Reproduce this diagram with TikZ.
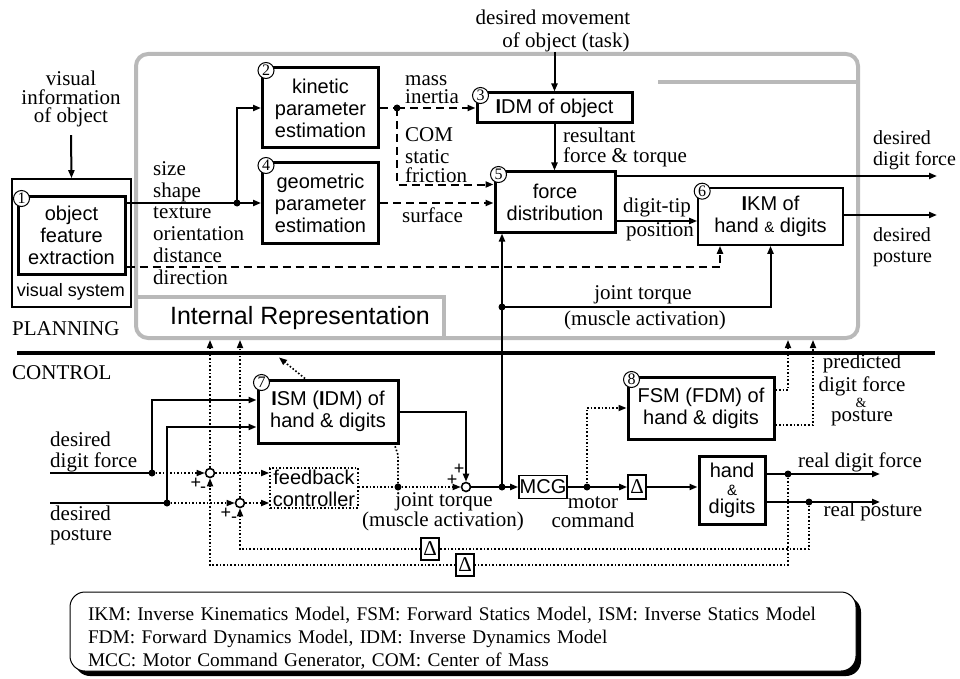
\documentclass[tikz,border=0pt]{standalone}
\usepackage{fontspec}
\setmainfont{Liberation Serif}
\setsansfont{Liberation Sans}
\usetikzlibrary{arrows.meta,positioning}
\newcommand\bxfont{\sffamily\fontsize{20}{22}\selectfont}
\newcommand\lbfont{\fontsize{21}{21.8}\selectfont}
\newcommand\nmfont{\fontsize{16}{16}\selectfont}
\newcommand\amp{{\fontsize{15}{15}\selectfont\&}}
\tikzset{
  >={Triangle[length=8pt,width=6pt]},
  blk/.style={draw,line width=3pt,font=\bxfont,align=center,inner sep=0pt},
  tblk/.style={draw,line width=1.6pt,font=\bxfont,align=center,inner sep=0pt},
  fbbox/.style={draw,dotln,font=\bxfont,align=center,inner sep=0pt},
  numc/.style={circle,draw,fill=white,line width=1pt,inner sep=0pt,minimum size=16pt,font=\nmfont},
  sumc/.style={circle,draw,fill=white,line width=1.6pt,inner sep=0pt,minimum size=9pt},
  lbl/.style={font=\lbfont,inner sep=0pt},
  pm/.style={font={\sffamily\fontsize{18}{18}\selectfont},inner sep=0pt},
  conn/.style={line width=2pt},
  dashln/.style={line width=2pt,dash pattern=on 8pt off 5pt},
  dotln/.style={line width=1.6pt,dash pattern=on 1.6pt off 2pt},
  irline/.style={gray!55,line width=4pt},
  legbox/.style={draw,fill=white,line width=1pt,rounded corners=15pt,
    minimum width=786pt,minimum height=79pt},
  legtext/.style={text width=750pt,align=left,inner sep=0pt,
    font={\fontsize{19.3}{23}\selectfont}},
}
\begin{document}
\begin{tikzpicture}[x=1pt,y=-1pt]
  \useasboundingbox (0,0) rectangle (960,679);

  % internal representation area
  \draw[irline,rounded corners=12pt] (136,54) rectangle (858,338);
  \draw[irline] (658,82) -- (858,82);
  \draw[irline] (136,297) -- (444,297) -- (444,338);
  \node[font={\sffamily\fontsize{25}{25}\selectfont}] (irlbl) at (300,318) {Internal Representation};

  \node[lbl] (plan) [anchor=west] at (12,329) {PLANNING};
  \node[lbl] (ctrl) [anchor=west] at (12,373) {CONTROL};
  \draw[line width=4pt] (17,353) -- (935,353);

  % planning
  \node[lbl,align=center,font={\fontsize{21}{18.5}\selectfont}] (visinfo) at (71,99) {visual\\information\\of object};
  \node[tblk,minimum width=119pt,minimum height=128pt] (vsys) at (71.5,243) {};
  \node[blk,minimum width=107pt,minimum height=78pt] (b1) at (71.5,235) {object\\feature\\extraction};
  \node[inner sep=0pt,font={\sffamily\fontsize{18}{18}\selectfont}] (vslbl) at (71,292) {visual system};
  \draw[conn,->] ([yshift=-8pt]visinfo.south) -- (vsys.north);

  \node[lbl,align=left,anchor=west] (feat) at (153,223) {size\\shape\\texture\\orientation\\distance\\direction};

  \node[blk,minimum width=116pt,minimum height=80pt] (b2) at (320.5,108) {kinetic\\parameter\\estimation};
  \node[blk,minimum width=116pt,minimum height=80pt] (b4) at (320.5,203) {geometric\\parameter\\estimation};
  \node[blk,minimum width=155pt,minimum height=30pt] (b3) at (554.5,108) {\textbf{I}DM of object};
  \node[blk,minimum width=120pt,minimum height=60pt] (b5) at (555,202) {force\\distribution};
  \node[tblk,minimum width=145pt,minimum height=57pt] (b6) at (770.5,216.5) {\textbf{I}KM of\\hand \amp{} digits};

  \coordinate (j1) at (237,203);
  \draw[conn,->] (b1.east |- j1) -- (j1) -- (b4.west |- j1);
  \draw[conn,->] (j1) |- (b2.west);
  \fill (j1) circle (3.5);

  \coordinate (j2) at (397,108);
  \draw[dashln] (b2.east) -- (j2);
  \draw[dashln,->] (j2) -- (b3.west);
  \draw[dashln,->] (j2) |- ([yshift=-14pt]b5.north west);
  \draw[dashln,->] (b4.east) -- (b4.east -| b5.west);
  \fill (j2) circle (3.5);

  \node[lbl,align=left,anchor=west,font={\fontsize{21}{18}\selectfont}] (mass) at (405,90) {mass\\inertia};
  \node[lbl,anchor=west] (com) at (405,135) {COM};
  \node[lbl,align=left,anchor=west,font={\fontsize{21}{19}\selectfont}] (fric) at (405,166) {static\\friction};
  \node[lbl,anchor=west] (surf) at (402,215) {surface};

  \node[lbl] (task1) at (553,17) {desired movement};
  \node[lbl] (task2) at (566,42) {of object (task)};
  \draw[conn,->] (task2.south -| b3.north) -- (b3.north);
  \draw[conn,->] (b3.south) -- (b3.south |- b5.north);
  \node[lbl,align=left,anchor=west,font={\fontsize{21}{20}\selectfont}] (result) at (563,147) {resultant\\force \& torque};

  \coordinate (outF) at (937,176);
  \coordinate (outP) at (937,215);
  \draw[conn,->] (b5.east |- outF) -- (outF);
  \draw[conn,->] (b5.east |- 0,221) -- (b6.west |- 0,221);
  \draw[conn,->] (b6.east |- outP) -- (outP);
  \node[lbl] (tip1) at (657,207) {digit-tip};
  \node[lbl] (tip2) at (660,232) {position};
  \node[lbl,align=left,anchor=west,font={\fontsize{20}{21}\selectfont}] (desF) at (873,150) {desired\\digit force};
  \node[lbl,align=left,anchor=west,font={\fontsize{20}{21}\selectfont}] (desP) at (873,247) {desired\\posture};

  \draw[dashln,->] (b1.east |- 0,267) -| (720,0 |- b6.south);

  \coordinate (jt) at (502,487);
  \coordinate (j3) at (502,307);
  \draw[conn,->] (jt) -- (jt |- b5.south);
  \draw[conn,->] (j3) -| (b6.south);
  \fill (j3) circle (3.5);
  \node[lbl] (jtq1) at (643,295) {joint torque};
  \node[lbl] (jtq2) at (645,320) {(muscle activation)};

  % control
  \node[blk,minimum width=140pt,minimum height=63pt] (b7) at (328,411.5) {\textbf{I}SM (\textbf{I}DM) of\\hand \& digits};
  \node[blk,minimum width=146pt,minimum height=62pt] (b8) at (701,408) {FSM (FDM) of\\hand \& digits};
  \node[fbbox,minimum width=88pt,minimum height=40pt] (fb) at (314,488) {feedback\\controller};
  \node[blk,minimum width=66pt,minimum height=68pt,font={\sffamily\fontsize{20}{18}\selectfont}] (hd) at (732,490) {hand\\\amp\\digits};
  \node[tblk,minimum width=48pt,minimum height=23pt] (mcg) at (543,487) {MCG};
  \node[tblk,minimum width=18pt,minimum height=24pt,font=\lbfont] (dl1) at (637,487) {Δ};
  \node[tblk,minimum width=18pt,minimum height=22pt,font=\lbfont] (dl2) at (430,549) {Δ};
  \node[tblk,minimum width=18pt,minimum height=22pt,font=\lbfont] (dl3) at (465,565) {Δ};

  \node[numc] (n1) at ([shift={(5,4)}]b1.north west) {1};
  \node[numc] (n2) at ([shift={(5,4)}]b2.north west) {2};
  \node[numc] (n3) at ([shift={(5,4)}]b3.north west) {3};
  \node[numc] (n4) at ([shift={(5,4)}]b4.north west) {4};
  \node[numc] (n5) at ([shift={(5,4)}]b5.north west) {5};
  \node[numc] (n6) at ([shift={(5,4)}]b6.north west) {6};
  \node[numc] (n7) at ([shift={(5,4)}]b7.north west) {7};
  \node[numc] (n8) at ([shift={(5,4)}]b8.north west) {8};

  \node[lbl,align=left,anchor=west,font={\fontsize{21}{21}\selectfont}] (inFl) at (50,452) {desired\\digit force};
  \node[lbl,align=left,anchor=west,font={\fontsize{21}{20}\selectfont}] (inPl) at (50,525) {desired\\posture};
  \coordinate (inF) at (50,473);
  \coordinate (jF) at (152,473);
  \coordinate (inP) at (50,503);
  \coordinate (jP) at (167,503);
  \node[sumc] (s1) at (210,473) {};
  \node[sumc] (s2) at (240,503) {};
  \node[sumc] (s3) at (466,487) {};
  \draw[conn] (inF) -- (jF);
  \draw[conn,->] (jF) |- (b7.west |- 0,400);
  \draw[conn] (inP) -- (jP);
  \draw[conn,->] (jP) |- (b7.west |- 0,427);
  \fill (jF) circle (3.5);
  \fill (jP) circle (3.5);
  \draw[dotln,->] (jF) -- (s1);
  \draw[dotln,->] (jP) -- (s2);
  \draw[dotln,->] (s1) -- (s1 -| fb.west);
  \draw[dotln,->] (s2) -- (s2 -| fb.west);
  \draw[dotln,->] (s1) -- (s1 |- 0,340);
  \draw[dotln,->] (s2) -- (s2 |- 0,340);
  \node[pm] (p1) at (196,483) {+};
  \node[pm] (m1) at (203,490) {-};
  \node[pm] (p2) at (226,513) {+};
  \node[pm] (m2) at (234,520) {-};

  \coordinate (jfb) at (398,487);
  \draw[conn,->] (b7.east) -| (s3);
  \draw[dotln] (fb.east |- jfb) -- (jfb);
  \draw[dotln,->] (jfb) -- (s3);
  \draw[dotln] (jfb) -- ++(0,-32) -- ([xshift=-5pt]b7.south east);
  \fill (jfb) circle (3.5);
  \draw[dotln,->] ([xshift=-23pt]b7.north) -- ++(-26,-21);
  \node[pm] (p3) at (459,469) {+};
  \node[pm] (p4) at (452,480) {+};
  \node[lbl] (jtq3) at (444,502) {joint torque};
  \node[lbl] (jtq4) at (443,521) {(muscle activation)};

  \coordinate (jm) at (587,487);
  \draw[conn] (s3) -- (jt);
  \draw[conn,->] (jt) -- (mcg);
  \fill (jt) circle (3.5);
  \draw[conn] (mcg) -- (jm);
  \draw[conn,->] (jm) -- (dl1);
  \fill (jm) circle (3.5);
  \draw[dotln,->] (jm) |- (b8.west);
  \node[lbl,align=center,font={\fontsize{21}{18.5}\selectfont}] (mc) at (593,512) {motor\\command};
  \draw[conn,->] (dl1) -- (dl1 -| hd.west);

  \coordinate (irB1) at (788,340);
  \coordinate (irB2) at (813,340);
  \draw[dotln,->] (b8.east |- 0,390) -| (irB1);
  \draw[dotln,->] (b8.east |- 0,425) -| (irB2);
  \node[lbl,align=center,font={\fontsize{21}{23}\selectfont}] (pr1) at (862,375) {predicted\\digit force};
  \node[inner sep=0pt,font={\fontsize{14}{14}\selectfont}] (pr2) at (861,403) {\&};
  \node[lbl] (pr3) at (862,418) {posture};

  \coordinate (jRF) at (788,474);
  \coordinate (jRP) at (809,502);
  \coordinate (oRF) at (880,474);
  \coordinate (oRP) at (880,502);
  \draw[conn,->] (hd.east |- jRF) -- (oRF);
  \draw[conn,->] (hd.east |- jRP) -- (oRP);
  \fill (jRF) circle (3.5);
  \fill (jRP) circle (3.5);
  \node[lbl] (rf) at (860,462) {real digit force};
  \node[lbl] (rp) at (873,511) {real posture};

  \draw[dotln] (jRP) |- (dl2);
  \draw[dotln,->] (dl2) -| (s2);
  \draw[dotln] (jRF) |- (dl3);
  \draw[dotln,->] (dl3) -| (s1);

  % abbreviations
  \fill[rounded corners=15pt] (75,597) rectangle (861,676);
  \node[legbox] (legend) at (463,631.5) {};
  \node[legtext] (legtxt) at (463,638) {IKM: Inverse Kinematics Model, FSM: Forward Statics Model, ISM: Inverse Statics Model\\FDM: Forward Dynamics Model, IDM: Inverse Dynamics Model\\MCC: Motor Command Generator, COM: Center of Mass};
\end{tikzpicture}
\end{document}
